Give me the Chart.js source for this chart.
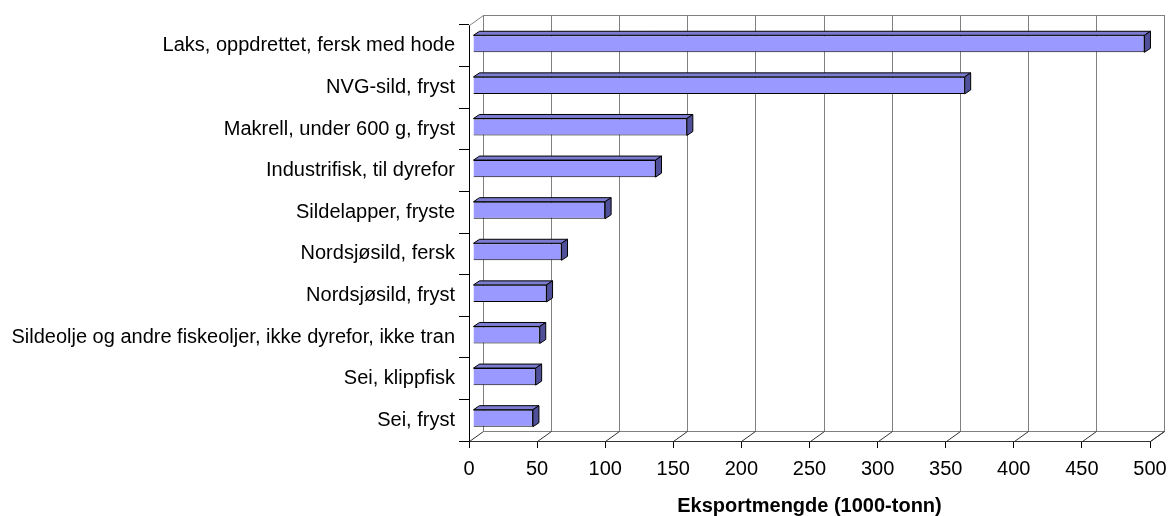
<!DOCTYPE html>
<html>
<head>
<meta charset="utf-8">
<script src="https://cdn.jsdelivr.net/npm/chart.js@4"></script>
<style>
  body { margin: 0; background: #fff; }
  #wrap { width: 1168px; height: 516px; position: relative; }
</style>
</head>
<body>
<div id="wrap"><canvas id="chart"></canvas></div>
<script>
// eksportmengde per produkt, 1000 tonn
const categories = [
  'Laks, oppdrettet, fersk med hode',
  'NVG-sild, fryst',
  'Makrell, under 600 g, fryst',
  'Industrifisk, til dyrefor',
  'Sildelapper, fryste',
  'Nordsjøsild, fersk',
  'Nordsjøsild, fryst',
  'Sildeolje og andre fiskeoljer, ikke dyrefor, ikke tran',
  'Sei, klippfisk',
  'Sei, fryst'
];
const values = [493, 361, 157, 134, 97, 65, 54, 49, 46, 44];
const xMin = 0, xMax = 500, xStep = 50;
const axisTitle = 'Eksportmengde (1000-tonn)';

const FONT = "'Liberation Sans', Arial, sans-serif";
const WALL = { dx: 14, dy: -10 };   // bakvegg
const BAR_SHIFT = { dx: 4, dy: -2 }; // søyler midt i dybden
const BAR_DEPTH = { dx: 6, dy: -4 };

// tegner bakvegg, gulv og 3D-sider på søylene
const threeD = {
  id: 'threeD',
  beforeDatasetsDraw(chart) {
    const { ctx, chartArea: a, scales: { x } } = chart;
    ctx.save();
    ctx.lineWidth = 1;
    ctx.strokeStyle = '#808080';
    // vertikale linjer på bakveggen
    for (let v = xMin; v <= xMax; v += xStep) {
      const px = Math.round(x.getPixelForValue(v)) + 0.5 + WALL.dx;
      ctx.beginPath();
      ctx.moveTo(px, a.top + WALL.dy);
      ctx.lineTo(px, a.bottom + WALL.dy);
      ctx.stroke();
    }
    // ramme bakvegg
    const l = Math.round(a.left) + 0.5, r = Math.round(a.right) + 0.5;
    const t = Math.round(a.top) + 0.5, b = Math.round(a.bottom) + 0.5;
    ctx.beginPath();
    ctx.moveTo(l + WALL.dx, t + WALL.dy);
    ctx.lineTo(r + WALL.dx, t + WALL.dy);
    ctx.lineTo(r + WALL.dx, b + WALL.dy);
    ctx.lineTo(l + WALL.dx, b + WALL.dy);
    ctx.stroke();
    ctx.beginPath();
    ctx.moveTo(l, t);
    ctx.lineTo(l + WALL.dx, t + WALL.dy);
    ctx.stroke();
    // gulv: diagonaler fra frontaksen
    ctx.strokeStyle = '#333';
    for (let v = xMin; v <= xMax; v += xStep) {
      const px = Math.round(x.getPixelForValue(v)) + 0.5;
      ctx.beginPath();
      ctx.moveTo(px, b);
      ctx.lineTo(px + WALL.dx, b + WALL.dy);
      ctx.stroke();
    }
    ctx.beginPath();
    ctx.moveTo(r, b);
    ctx.lineTo(r + WALL.dx, b + WALL.dy);
    ctx.stroke();
    ctx.restore();

    ctx.save();
    ctx.translate(BAR_SHIFT.dx, BAR_SHIFT.dy);
  },
  afterDatasetsDraw(chart) {
    const { ctx } = chart;
    const meta = chart.getDatasetMeta(0);
    ctx.lineWidth = 1;
    ctx.strokeStyle = '#000';
    ctx.lineJoin = 'round';
    meta.data.forEach(bar => {
      const p = bar.getProps(['x', 'y', 'base', 'height'], true);
      const left = Math.min(p.base, p.x), right = Math.max(p.base, p.x);
      const top = p.y - p.height / 2, bottom = p.y + p.height / 2;
      // toppflate
      ctx.fillStyle = '#7b7bd2';
      ctx.beginPath();
      ctx.moveTo(left, top);
      ctx.lineTo(left + BAR_DEPTH.dx, top + BAR_DEPTH.dy);
      ctx.lineTo(right + BAR_DEPTH.dx, top + BAR_DEPTH.dy);
      ctx.lineTo(right, top);
      ctx.closePath();
      ctx.fill();
      ctx.stroke();
      // side
      ctx.fillStyle = '#50509a';
      ctx.beginPath();
      ctx.moveTo(right, top);
      ctx.lineTo(right + BAR_DEPTH.dx, top + BAR_DEPTH.dy);
      ctx.lineTo(right + BAR_DEPTH.dx, bottom + BAR_DEPTH.dy);
      ctx.lineTo(right, bottom);
      ctx.closePath();
      ctx.fill();
      ctx.stroke();
    });
    ctx.restore();
  }
};

new Chart(document.getElementById('chart'), {
  type: 'bar',
  data: {
    labels: categories,
    datasets: [{
      data: values,
      backgroundColor: '#9999ff',
      borderColor: '#000',
      borderWidth: 1,
      barPercentage: 0.41,
      categoryPercentage: 1
    }]
  },
  options: {
    indexAxis: 'y',
    responsive: true,
    maintainAspectRatio: false,
    animation: false,
    layout: { padding: { top: 25, right: 18, left: 0, bottom: 0 } },
    plugins: {
      legend: { display: false },
      tooltip: { enabled: false }
    },
    scales: {
      x: {
        min: xMin,
        max: xMax,
        afterFit: s => { s.height = 75; s.paddingLeft = 0; s.paddingRight = 0; },
        ticks: {
          stepSize: xStep,
          color: '#000',
          padding: 9,
          font: { family: FONT, size: 20 }
        },
        grid: { drawOnChartArea: false, tickLength: 7, color: '#000' },
        border: { color: '#333' },
        title: {
          display: true,
          text: axisTitle,
          color: '#000',
          padding: { top: 0, bottom: 0 },
          font: { family: FONT, size: 20, weight: 'bold', lineHeight: 1 }
        }
      },
      y: {
        afterFit: s => { s.width = 469; s.paddingTop = 0; s.paddingBottom = 0; },
        ticks: {
          color: '#000',
          padding: 4,
          font: { family: FONT, size: 20 }
        },
        grid: { drawOnChartArea: false, tickLength: 10, color: '#000', offset: true },
        border: { color: '#000' }
      }
    }
  },
  plugins: [threeD]
});
</script>
</body>
</html>
